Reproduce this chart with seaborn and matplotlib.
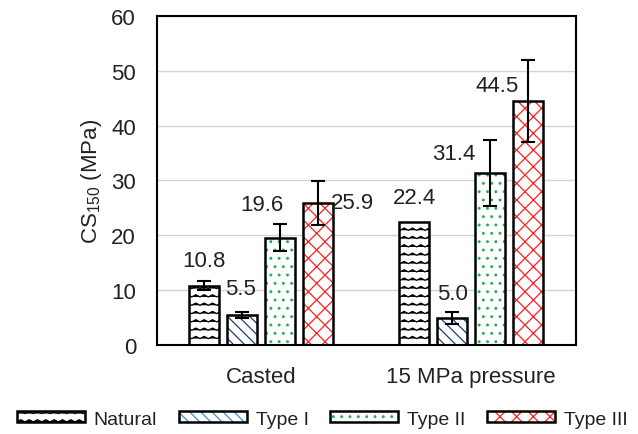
import numpy as np
import pandas as pd
import matplotlib
matplotlib.use("Agg")
import matplotlib.pyplot as plt
import matplotlib.hatch as mhatch
from matplotlib.path import Path
import seaborn as sns
from matplotlib.patches import Rectangle, Patch
from matplotlib.legend_handler import HandlerTuple

# ---- data ----
groups = ["Casted", "15 MPa pressure"]
types = ["Natural", "Type I", "Type II", "Type III"]
values = {
    "Natural": [10.8, 22.4],
    "Type I": [5.5, 5.0],
    "Type II": [19.6, 31.4],
    "Type III": [25.9, 44.5],
}
errors = {
    "Natural": [0.8, 0.0],
    "Type I": [0.6, 1.1],
    "Type II": [2.5, 6.0],
    "Type III": [4.0, 7.4],
}
y_ticks = [0, 10, 20, 30, 40, 50, 60]

# ---- style ----
hatch_colors = {"Natural": "black", "Type I": "#1f3d7a", "Type II": "#22b14c", "Type III": "#ff2020"}
legend_hatch_colors = {"Natural": "black", "Type I": "#3a8fd6", "Type II": "#22b14c", "Type III": "#ff2020"}
hatches = {"Natural": "**", "Type I": "\\\\\\", "Type II": "..", "Type III": "xx"}
# label offsets (points) relative to the bar top centre
label_offsets = {
    "Natural": [(0, 18), (0, 18)],
    "Type I": [(-1, 19), (0, 17)],
    "Type II": [(-13, 24), (-26, 14)],
    "Type III": [(25, 0), (-22, 11)],
}


# custom zig-zag hatch pattern replacing the "*" (stars) hatch
class ZigZagHatch(mhatch.HatchPatternBase):
    def __init__(self, hatch, density):
        self.num_lines = int(hatch.count("*") * density)
        self.segs = 24
        self.num_vertices = self.num_lines * (self.segs + 1)

    def set_vertices_and_codes(self, vertices, codes):
        amp = 0.011
        xs = np.linspace(0.0, 1.0, self.segs + 1)
        offs = np.where(np.arange(self.segs + 1) % 2 == 0, -amp, amp)
        k = 0
        for i in range(self.num_lines):
            y0 = (i + 0.5) / self.num_lines
            n = self.segs + 1
            vertices[k:k + n, 0] = xs
            vertices[k:k + n, 1] = y0 + offs
            codes[k] = Path.MOVETO
            codes[k + 1:k + n] = Path.LINETO
            k += n


mhatch._hatch_types = [h for h in mhatch._hatch_types if h is not mhatch.Stars] + [ZigZagHatch]

sns.set_theme(style="white")
plt.rcParams["font.family"] = ["Liberation Sans", "DejaVu Sans"]
plt.rcParams["mathtext.fontset"] = "custom"
plt.rcParams["mathtext.rm"] = "Liberation Sans"
plt.rcParams["mathtext.it"] = "Liberation Sans"
plt.rcParams["hatch.linewidth"] = 0.9

rows = []
for t in types:
    for g, v in zip(groups, values[t]):
        rows.append({"group": g, "type": t, "value": v})
df = pd.DataFrame(rows)

fig = plt.figure(figsize=(6.38, 4.35), dpi=100)
ax = fig.add_axes([0.246, 0.2046, 0.657, 0.7564])

sns.barplot(data=df, x="group", y="value", hue="type", order=groups, hue_order=types,
            width=0.724, gap=0.21, ax=ax, errorbar=None, legend=False,
            palette=["white"] * 4, saturation=1)

ax.set_axisbelow(True)
ax.yaxis.grid(True, color="#d4d4d4", linewidth=1.0)
ax.set_ylim(0, 60)
ax.set_yticks(y_ticks)
ax.set_xlim(-0.495, 1.5)

for t, cont in zip(types, ax.containers):
    for i, p in enumerate(cont.patches):
        p.set_facecolor("white")
        p.set_hatch(hatches[t])
        p.set_edgecolor(hatch_colors[t])
        p.set_linewidth(0)
        ax.add_patch(Rectangle((p.get_x(), p.get_y()), p.get_width(), p.get_height(),
                               fill=False, edgecolor="black", linewidth=1.8, zorder=p.get_zorder() + 0.1))
        xc = p.get_x() + p.get_width() / 2
        h = p.get_height()
        err = errors[t][i]
        if err > 0:
            ax.errorbar(xc, h, yerr=err, fmt="none", ecolor="black", elinewidth=1.5,
                        capsize=5, capthick=1.5, zorder=5)
        dx, dy = label_offsets[t][i]
        ax.annotate(f"{h:.1f}", (xc, h), xytext=(dx, dy), textcoords="offset points",
                    ha="center", va="center", fontsize=16, color="#222222", zorder=6)

for s in ax.spines.values():
    s.set_visible(True)
    s.set_color("black")
    s.set_linewidth(1.5)

ax.set_xlabel("")
ax.set_ylabel("CS$_{150}$ (MPa)", fontsize=16, color="#222222", labelpad=5)
ax.tick_params(axis="both", length=0, labelsize=16, colors="#222222", pad=15)

handles = [(Patch(facecolor="white", edgecolor=legend_hatch_colors[t], hatch=hatches[t], linewidth=0),
            Patch(facecolor="none", edgecolor="black", linewidth=1.8))
           for t in types]
leg = fig.legend(handles, types, loc="center", bbox_to_anchor=(0.505, 0.034), ncol=4, frameon=False,
                 fontsize=14, handlelength=3.5, handleheight=0.5, handletextpad=0.46,
                 columnspacing=1.1, borderpad=0,
                 handler_map={tuple: HandlerTuple(ndivide=1, pad=0)})
for txt in leg.get_texts():
    txt.set_color("#222222")

fig.savefig("out.png", dpi=100)
